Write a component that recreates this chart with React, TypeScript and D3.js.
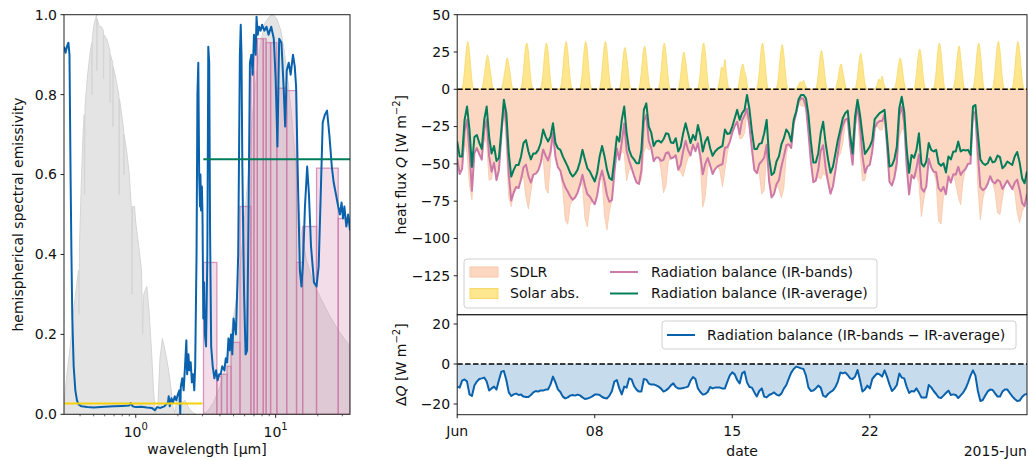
import { useEffect, useRef } from "react";
import * as d3 from "d3";

const FONT = "'DejaVu Sans', sans-serif";

// ---------- left panel: spectra ----------
// solar spectrum (normalised), grey
const sunWl = [0.305, 0.31, 0.32, 0.34, 0.36, 0.38, 0.39, 0.393, 0.396, 0.41, 0.42, 0.428, 0.431, 0.434, 0.45, 0.47, 0.484, 0.486, 0.489, 0.5, 0.515, 0.525, 0.527, 0.53, 0.55, 0.57, 0.587, 0.589, 0.592, 0.62, 0.654, 0.656, 0.659, 0.685, 0.687, 0.69, 0.72, 0.757, 0.761, 0.765, 0.8, 0.82, 0.823, 0.826, 0.86, 0.9, 0.935, 0.94, 0.95, 0.98, 1.0, 1.05, 1.1, 1.12, 1.14, 1.2, 1.25, 1.3, 1.34, 1.38, 1.44, 1.49, 1.55, 1.62, 1.7, 1.78, 1.84, 1.9, 1.96, 2.05, 2.15, 2.25, 2.4, 2.55, 2.7];
const sunRel = [0.0, 0.04, 0.09, 0.17, 0.26, 0.33, 0.36, 0.25, 0.42, 0.6, 0.7, 0.75, 0.55, 0.77, 0.84, 0.9, 0.93, 0.8, 0.94, 0.97, 0.99, 1.0, 0.86, 0.99, 0.97, 0.97, 0.96, 0.84, 0.95, 0.94, 0.91, 0.78, 0.9, 0.88, 0.72, 0.87, 0.84, 0.8, 0.55, 0.79, 0.74, 0.71, 0.6, 0.7, 0.66, 0.6, 0.5, 0.3, 0.52, 0.52, 0.48, 0.42, 0.36, 0.2, 0.3, 0.32, 0.25, 0.15, 0.06, 0.0, 0.02, 0.14, 0.19, 0.16, 0.12, 0.07, 0.02, 0.005, 0.03, 0.04, 0.03, 0.035, 0.015, 0.005, 0.0];
// thermal (sky window) spectrum, grey
const bbWl = [3.0, 3.3, 3.6, 4.0, 4.4, 4.8, 5.3, 5.8, 6.3, 6.8, 7.3, 7.8, 8.4, 9.0, 9.6, 10.2, 10.9, 11.5, 12.2, 13.0, 14.0, 15.0, 16.5, 18.5, 21.0, 24.0, 28.0, 34.0];
const bbRel = [0.0, 0.01, 0.03, 0.07, 0.12, 0.2, 0.3, 0.43, 0.58, 0.74, 0.85, 0.93, 0.98, 0.995, 1.0, 0.99, 0.96, 0.91, 0.84, 0.75, 0.61, 0.47, 0.39, 0.33, 0.29, 0.25, 0.21, 0.17];
// band-averaged emissivity
const bandEdges = [3.05, 3.8, 4.1, 4.5, 4.8, 5.56, 6.66, 7.0, 7.4, 8.15, 8.55, 9.2, 10.2, 12.0, 14.1, 15.6, 19.6, 28, 34];
const bandEps = [0.38, 0.095, 0.1, 0.12, 0.18, 0.52, 0.857, 0.94, 0.94, 0.94, 0.93, 0.93, 0.816, 0.81, 0.38, 0.47, 0.616, 0.49];
// measured emissivity
const emWl = [0.307, 0.315, 0.322, 0.33, 0.336, 0.342, 0.347, 0.352, 0.36, 0.37, 0.38, 0.39, 0.41, 0.45, 0.5, 0.6, 0.7, 0.8, 0.9, 0.92, 0.95, 1.0, 1.1, 1.2, 1.3, 1.37, 1.42, 1.5, 1.6, 1.7, 1.72, 1.75, 1.8, 1.85, 1.9, 1.95, 2.0, 2.05, 2.08, 2.1, 2.15, 2.2, 2.25, 2.3, 2.33, 2.38, 2.42, 2.47, 2.52, 2.57, 2.62, 2.66, 2.72, 2.76, 2.8, 2.84, 2.88, 2.9, 2.93, 2.97, 3.0, 3.04, 3.08, 3.12, 3.18, 3.25, 3.3, 3.35, 3.4, 3.46, 3.55, 3.65, 3.75, 3.85, 3.95, 4.05, 4.15, 4.3, 4.4, 4.5, 4.6, 4.7, 4.8, 4.9, 5.0, 5.2, 5.4, 5.55, 5.63, 5.7, 5.78, 5.85, 5.95, 6.1, 6.25, 6.4, 6.55, 6.7, 6.85, 7.0, 7.2, 7.3, 7.45, 7.6, 7.8, 8.0, 8.3, 8.6, 8.9, 9.3, 9.7, 10.0, 10.3, 10.6, 11.0, 11.4, 11.7, 12.0, 12.4, 12.8, 13.3, 13.7, 14.0, 14.4, 14.9, 15.3, 15.7, 16.2, 16.8, 17.3, 17.9, 18.8, 19.6, 20.3, 21.0, 21.7, 22.5, 23.3, 24.2, 25.2, 26.0, 27.0, 28.0, 28.8, 29.6, 30.3, 31.0, 32.0, 33.0, 34.0];
const emEps = [0.92, 0.905, 0.92, 0.93, 0.9, 0.6, 0.4, 0.24, 0.12, 0.06, 0.035, 0.025, 0.02, 0.018, 0.017, 0.019, 0.02, 0.021, 0.022, 0.028, 0.02, 0.018, 0.019, 0.017, 0.016, 0.01, 0.018, 0.016, 0.02, 0.03, 0.045, 0.02, 0.04, 0.03, 0.045, 0.035, 0.05, 0.06, 0.0, 0.07, 0.09, 0.06, 0.12, 0.185, 0.1, 0.15, 0.11, 0.13, 0.08, 0.1, 0.06, 0.12, 0.4, 0.8, 0.88, 0.6, 0.52, 0.6, 0.51, 0.57, 0.5, 0.24, 0.33, 0.2, 0.17, 0.4, 0.92, 0.88, 0.45, 0.17, 0.12, 0.09, 0.11, 0.085, 0.1, 0.1, 0.12, 0.11, 0.14, 0.13, 0.19, 0.16, 0.2, 0.15, 0.24, 0.2, 0.4, 0.9, 0.975, 0.9, 0.62, 0.48, 0.3, 0.15, 0.16, 0.5, 0.88, 0.9, 0.85, 0.95, 0.9, 0.995, 0.95, 0.97, 0.96, 0.975, 0.96, 0.97, 0.95, 0.97, 0.94, 0.84, 0.67, 0.94, 0.93, 0.82, 0.72, 0.86, 0.88, 0.85, 0.9, 0.87, 0.82, 0.6, 0.36, 0.32, 0.38, 0.52, 0.62, 0.55, 0.42, 0.33, 0.32, 0.37, 0.55, 0.73, 0.75, 0.76, 0.7, 0.62, 0.58, 0.55, 0.52, 0.5, 0.53, 0.49, 0.52, 0.47, 0.5, 0.46];
const solarAvg = 0.027;
const irAvg = 0.638;
const solarRange = [0.307, 3.0];
const irRange = [3.04, 34];

// ---------- right panels: June 2015, every 3 h ----------
const start = Date.UTC(2015, 5, 1);
const stepHours = 3;
const nDays = 29;
const irAverage = [
  -35, -45, -45, -20.5, -11.6, -27, -52, -32,
  -30.6, -36, -40, -20.5, -11.6, -31.7, -43, -38,
  -48, -46, -27, -7, -16, -43, -58.5, -54,
  -50.7, -50.7, -45, -36, -34, -41.7, -47, -43,
  -43, -40.6, -36, -27, -31.7, -35, -31.7, -22.8,
  -36, -39.5, -40.6, -45, -48.4, -51.8, -56, -58.5,
  -56.7, -54, -48.4, -40.6, -47, -53, -55, -58.5,
  -61.8, -56, -45, -38, -45, -54, -59.6, -60.7,
  -47, -31.7, -35, -20.5, -11.6, -29.5, -40.6, -45,
  -47, -49.6, -49.6, -40.6, -13.8, -9.4, -25, -29,
  -38, -35, -34.4, -35.7, -33.5, -29.5, -30, -35.7,
  -36, -32.8, -41.7, -38.4, -29.5, -22.8, -29.5, -36,
  -30.6, -34, -24, -30.6, -41.7, -35, -32, -39.5,
  -44.6, -41.7, -40, -39, -38, -27, -30, -29.5,
  -25, -19.4, -13.8, -20.5, -16, -13.8, -3.8, -13.4,
  -28.3, -40, -40, -36.6, -36, -29.5, -20.5, -46,
  -57.4, -56, -48.4, -45, -37, -32.8, -27, -29.5,
  -35, -20.5, -15, -6.7, -3.8, -3.8, -6, -17,
  -35, -49, -49, -43, -29.5, -21.7, -36, -47,
  -56, -51.8, -43, -34, -27, -19.4, -16, -14.3,
  -30.6, -43, -18.3, -7, -17, -30.6, -43.3, -41,
  -38.4, -34, -20, -17.9, -16, -15, -13.8, -31.7,
  -51.8, -51, -47, -38.4, -12.7, -5, -15, -40,
  -56, -44, -46, -40.6, -29.5, -49.6, -51.8, -48.4,
  -36, -40.6, -41.7, -40.6, -49.6, -51.3, -49.6, -55.8,
  -45, -47, -41.7, -41.7, -35, -41.7, -40.6, -41,
  -40.6, -44, -11.6, -10.5, -29.5, -47, -49.6, -50.7,
  -49.6, -45.5, -49, -48.4, -44.4, -45.5, -53, -51.3,
  -48.4, -49.6, -50.7, -45, -42, -49, -59.6, -63,
  -55,
];
const bandsMinusAvg = [
  -11.3, -11.8, -8.3, -7.7, -8.8, -15.2, -16, -10.8,
  -8.8, -7.5, -7.2, -6.8, -8.8, -13.3, -12.2, -11.3,
  -12.8, -8, -3.8, -3.5, -8, -14.2, -16, -15.2,
  -14.8, -15.5, -15.3, -16.3, -16.5, -16.5, -15.5, -14.2,
  -13.5, -13.8, -13.2, -13.3, -12.8, -12.7, -10.2, -6.3,
  -9.2, -12.7, -14, -16.3, -17.2, -16.7, -15.8, -15.5,
  -15.8, -15.3, -15.7, -16.7, -17.5, -17.3, -16.8, -16.2,
  -15.3, -15.2, -15.5, -16.5, -17, -17.2, -15.8, -13.5,
  -8.8, -8, -12.2, -15.2, -11.3, -11.8, -7.2, -7.7,
  -11, -12.8, -13.8, -13.8, -7.5, -7.8, -9.8, -10.3,
  -10.2, -10.7, -11.3, -12.3, -13.8, -13.2, -12.2, -10.7,
  -9.7, -11.5, -12.2, -12.2, -12, -11.7, -11.3, -8.3,
  -6.5, -7.5, -12.2, -14, -15.3, -15, -14, -11.5,
  -12.2, -11.8, -11.7, -11.8, -12.3, -12.2, -8.8, -5.7,
  -4.2, -5.2, -8, -9.7, -4.7, -3.8, -9.2, -11.5,
  -11.8, -14.2, -16.2, -13.5, -12.2, -16.3, -16.7, -15.5,
  -15, -14.2, -15.3, -15.8, -14.8, -12.3, -10.5, -7.3,
  -4.3, -2.5, -1.3, -1.7, -2.2, -2.5, -5.8, -11.7,
  -13.5, -13.3, -12.2, -10.8, -11.8, -15.8, -16.5, -15,
  -14, -13.2, -11.5, -8.8, -4.2, -4.7, -4.2, -5.5,
  -7.2, -7.5, -6.3, -3, -8, -13.8, -12.7, -10.8,
  -12.2, -7.5, -6, -4.7, -5.2, -6.3, -3.2, -6.3,
  -10.2, -13.5, -12.3, -10.5, -4.8, -6.8, -7.2, -11.3,
  -14.5, -13.5, -13.8, -12.2, -14.3, -16.7, -16.8, -16.7,
  -10.5, -11.7, -13.5, -15, -16.7, -17, -15.8, -14.5,
  -13.3, -15.5, -15.2, -15.5, -17, -15.7, -14.3, -12.3,
  -9.3, -5.8, -3.2, -5.8, -13.5, -18.5, -18, -15.8,
  -13.7, -12.8, -13, -14.7, -16.3, -16.3, -13.8, -12.7,
  -12.8, -14.5, -16.2, -17.5, -18.5, -18.3, -16.5, -15.3,
  -15,
];
const sdlr = [
  -46.3, -56.8, -53.3, -34.2, -42.4, -64.2, -74, -42.8,
  -39.4, -43.5, -47.2, -32.3, -36.4, -61, -60.2, -49.3,
  -60.8, -54, -30.8, -14.5, -39, -72.2, -78.5, -69.2,
  -65.5, -66.2, -60.3, -58.3, -72.5, -80.2, -68.5, -57.2,
  -56.5, -54.4, -49.2, -46.3, -66.5, -69.7, -47.9, -29.1,
  -45.2, -52.2, -54.6, -67.3, -87.6, -90.5, -77.8, -74,
  -72.5, -69.3, -64.1, -63.3, -86.5, -92.3, -77.8, -74.7,
  -77.1, -71.2, -60.5, -60.5, -85, -94.2, -81.4, -74.2,
  -55.8, -39.7, -47.2, -41.7, -42.9, -61.3, -53.8, -52.7,
  -58, -62.4, -63.4, -60.4, -42.3, -38.2, -40.8, -39.3,
  -48.2, -45.7, -45.7, -54, -69.3, -64.7, -48.2, -46.4,
  -45.7, -44.3, -53.9, -55.6, -58.5, -51.5, -45.8, -44.3,
  -37.1, -41.5, -36.2, -50.6, -79, -72, -52, -51,
  -56.8, -53.5, -51.7, -54.8, -65.3, -54.2, -42.8, -35.2,
  -29.2, -24.6, -21.8, -33.2, -32.7, -29.6, -16, -24.9,
  -40.1, -54.2, -56.2, -56.1, -70.2, -67.8, -43.2, -61.5,
  -72.4, -70.2, -63.7, -66.8, -72.8, -66.1, -43.5, -36.8,
  -39.3, -23, -16.3, -9.4, -11, -11.3, -12.8, -28.7,
  -48.5, -62.3, -61.2, -58.8, -60.3, -56.5, -57.5, -62,
  -70, -65, -54.5, -45.8, -43.2, -36.1, -23.2, -19.8,
  -37.8, -50.5, -24.6, -15, -42, -61.4, -61, -51.8,
  -50.6, -41.5, -26, -24.6, -27.2, -27.3, -19, -38,
  -62, -64.5, -59.3, -52.9, -32.5, -26.8, -26.2, -51.3,
  -70.5, -57.5, -59.8, -57.8, -62.8, -85.3, -73.6, -65.1,
  -46.5, -52.3, -55.2, -61.6, -88.3, -90.3, -71.4, -70.3,
  -58.3, -62.5, -56.9, -63.2, -72, -77.4, -60.9, -53.3,
  -49.9, -49.8, -14.8, -22.3, -65, -87.5, -73.6, -66.5,
  -63.3, -58.3, -62, -69.1, -82.7, -83.8, -72.8, -64,
  -61.2, -64.1, -66.9, -68.5, -82.5, -89.3, -82.1, -78.3,
  -70,
];
const solarHours = [7, 9, 11, 13, 15, 17, 19];
const solarAbs = [
  [3, 13, 26, 32, 25, 12, 2],
  [2, 9, 18, 23, 18, 10, 2],
  [2, 8, 15, 21, 17, 9, 2],
  [3, 13, 26, 31, 25, 12, 3],
  [3, 12, 25, 31, 25, 12, 2],
  [3, 13, 26, 32, 26, 13, 3],
  [3, 13, 26, 32, 26, 12, 2],
  [3, 13, 26, 32, 26, 13, 3],
  [2, 11, 23, 28, 22, 12, 2],
  [3, 12, 24, 29, 22, 11, 2],
  [3, 12, 25, 31, 24, 12, 2],
  [2, 10, 20, 25, 19, 10, 2],
  [3, 12, 25, 31, 25, 12, 2],
  [2, 8, 15, 13, 20, 10, 2],
  [1, 7, 14, 17, 12, 8, 1],
  [3, 12, 25, 31, 24, 12, 2],
  [3, 12, 24, 30, 23, 11, 2],
  [1, 3, 5, 4, 6, 3, 1],
  [2, 10, 21, 26, 20, 10, 2],
  [2, 7, 14, 17, 12, 6, 1],
  [2, 9, 19, 24, 18, 8, 2],
  [1, 3, 7, 5, 9, 4, 1],
  [2, 8, 16, 21, 17, 8, 2],
  [2, 11, 22, 27, 21, 10, 2],
  [3, 12, 25, 31, 25, 12, 2],
  [3, 11, 23, 29, 22, 11, 2],
  [3, 12, 25, 31, 25, 12, 2],
  [3, 13, 26, 32, 26, 13, 3],
  [3, 13, 26, 32, 26, 13, 3],
];
const fluxTicks = [50, 25, 0, -25, -50, -75, -100, -125];
const diffTicks = [20, 0, -20];
const dayTicks = [1, 8, 15, 22];
const dayLabels = ["Jun", "08", "15", "22"];

const C = {
  frame: "#222",
  grey: "#e4e4e4",
  greyEdge: "#d4d4d4",
  pink: "#cc79a7",
  blue: "#0a62ad",
  green: "#007d5a",
  yellowLine: "#f5d10a",
  peach: "#fcd8c2",
  peachEdge: "#f8c6a8",
  solar: "#fde68e",
  solarEdge: "#f8d968",
  diffFill: "#c6dcec",
};

const minus = (v: number) => (v < 0 ? "\u2212" + Math.abs(v) : String(v));

export default function App() {
  const ref = useRef<SVGSVGElement>(null);

  useEffect(() => {
    const svg = d3.select(ref.current);
    svg.selectAll("*").remove();
    svg.attr("font-family", FONT).attr("font-size", 14).attr("fill", "#111");
    const defs = svg.append("defs");

    // ================= left: emissivity =================
    const lx0 = 64, lx1 = 350, ly0 = 14.7, ly1 = 414.3;
    const x = d3.scaleLog().domain([0.307, 34]).range([lx0, lx1]);
    const y = d3.scaleLinear().domain([0, 1]).range([ly1, ly0]);

    defs.append("clipPath").attr("id", "clipL").append("rect")
      .attr("x", lx0).attr("y", ly0).attr("width", lx1 - lx0).attr("height", ly1 - ly0);
    const gL = svg.append("g").attr("clip-path", "url(#clipL)");

    const specArea = d3.area<[number, number]>()
      .x((d) => x(d[0])).y0(y(0)).y1((d) => y(d[1]));

    gL.append("path").datum(d3.zip(sunWl, sunRel) as [number, number][])
      .attr("d", specArea).attr("fill", C.grey).attr("stroke", C.greyEdge).attr("stroke-width", 1);
    gL.append("path").datum(d3.zip(bbWl, bbRel) as [number, number][])
      .attr("d", specArea).attr("fill", C.grey).attr("stroke", C.greyEdge).attr("stroke-width", 1);

    gL.selectAll("rect.band").data(bandEps).join("rect")
      .attr("class", "band")
      .attr("x", (_, i) => x(bandEdges[i]))
      .attr("width", (_, i) => x(bandEdges[i + 1]) - x(bandEdges[i]))
      .attr("y", (d) => y(d))
      .attr("height", (d) => y(0) - y(d))
      .attr("fill", C.pink).attr("fill-opacity", 0.25)
      .attr("stroke", C.pink).attr("stroke-opacity", 0.75).attr("stroke-width", 1.3);

    const specLine = d3.line<[number, number]>().x((d) => x(d[0])).y((d) => y(d[1]));
    gL.append("path").datum(d3.zip(emWl, emEps) as [number, number][])
      .attr("d", specLine).attr("fill", "none").attr("stroke", C.blue)
      .attr("stroke-width", 2).attr("stroke-linejoin", "round");
    gL.append("path").datum(solarRange.map((w) => [w, solarAvg] as [number, number]))
      .attr("d", specLine).attr("stroke", C.yellowLine).attr("stroke-width", 2);
    gL.append("path").datum(irRange.map((w) => [w, irAvg] as [number, number]))
      .attr("d", specLine).attr("stroke", C.green).attr("stroke-width", 2);

    svg.append("rect").attr("x", lx0).attr("y", ly0).attr("width", lx1 - lx0).attr("height", ly1 - ly0)
      .attr("fill", "none").attr("stroke", C.frame).attr("stroke-width", 1);

    const gAx = svg.append("g");
    d3.range(0, 1.01, 0.2).forEach((v) => {
      gAx.append("line").attr("x1", lx0 - 3.5).attr("x2", lx0).attr("y1", y(v)).attr("y2", y(v)).attr("stroke", C.frame);
      gAx.append("text").attr("x", lx0 - 7).attr("y", y(v)).attr("dy", "0.35em")
        .attr("text-anchor", "end").text(d3.format(".1f")(v));
    });
    const minorWl = [0.4, 0.5, 0.6, 0.7, 0.8, 0.9, 2, 3, 4, 5, 6, 7, 8, 9, 20, 30];
    minorWl.forEach((w) => {
      gAx.append("line").attr("x1", x(w)).attr("x2", x(w)).attr("y1", ly1).attr("y2", ly1 + 2).attr("stroke", C.frame).attr("stroke-width", 0.7);
    });
    [1, 10].forEach((w, i) => {
      gAx.append("line").attr("x1", x(w)).attr("x2", x(w)).attr("y1", ly1).attr("y2", ly1 + 3.5).attr("stroke", C.frame);
      const t = gAx.append("text").attr("x", x(w)).attr("y", 437).attr("text-anchor", "middle");
      t.append("tspan").text("10");
      t.append("tspan").attr("dy", -7).attr("font-size", 10).text(String(i));
    });
    gAx.append("text").attr("x", (lx0 + lx1) / 2).attr("y", 454).attr("text-anchor", "middle").text("wavelength [µm]");
    gAx.append("text").attr("transform", `translate(23,${(ly0 + ly1) / 2}) rotate(-90)`)
      .attr("text-anchor", "middle").text("hemispherical spectral emissivity");

    // ================= right: heat flux =================
    const rx0 = 457.2, rx1 = 1027, tTop = 14.7, tBot = 314.7, bTop = 314.7, bBot = 414.7;
    const day = 864e5;
    const xt = d3.scaleUtc().domain([new Date(start), new Date(start + nDays * day)]).range([rx0, rx1]);
    const yT = d3.scaleLinear().domain([-151.1, 50]).range([tBot, tTop]);
    const yB = d3.scaleLinear().domain([-25.35, 24.65]).range([bBot, bTop]);
    const at = (i: number) => new Date(start + i * stepHours * 3600e3);

    const irBands = irAverage.map((v, i) => v + bandsMinusAvg[i]);

    const solarPts: [Date, number][] = [[new Date(start), 0]];
    solarAbs.forEach((vals, d) => {
      solarPts.push([new Date(start + d * day + 5 * 3600e3), 0]);
      vals.forEach((v, j) => solarPts.push([new Date(start + d * day + solarHours[j] * 3600e3), v]));
      solarPts.push([new Date(start + d * day + 21 * 3600e3), 0]);
    });
    solarPts.push([new Date(start + nDays * day), 0]);

    defs.append("clipPath").attr("id", "clipT").append("rect")
      .attr("x", rx0).attr("y", tTop).attr("width", rx1 - rx0).attr("height", tBot - tTop);
    defs.append("clipPath").attr("id", "clipB").append("rect")
      .attr("x", rx0).attr("y", bTop).attr("width", rx1 - rx0).attr("height", bBot - bTop);

    const gT = svg.append("g").attr("clip-path", "url(#clipT)");
    gT.append("path").datum(sdlr)
      .attr("d", d3.area<number>().x((_, i) => xt(at(i))).y0(yT(0)).y1((d) => yT(d)))
      .attr("fill", C.peach).attr("stroke", C.peachEdge).attr("stroke-width", 0.8);
    gT.append("path").datum(solarPts)
      .attr("d", d3.area<[Date, number]>().x((d) => xt(d[0])).y0(yT(0)).y1((d) => yT(d[1])).curve(d3.curveMonotoneX))
      .attr("fill", C.solar).attr("stroke", C.solarEdge).attr("stroke-width", 0.8);

    const seriesLine = (ys: (v: number) => number) =>
      d3.line<number>().x((_, i) => xt(at(i))).y((d) => ys(d));
    gT.append("path").datum(irBands).attr("d", seriesLine(yT))
      .attr("fill", "none").attr("stroke", C.pink).attr("stroke-width", 2).attr("stroke-linejoin", "round");
    gT.append("path").datum(irAverage).attr("d", seriesLine(yT))
      .attr("fill", "none").attr("stroke", C.green).attr("stroke-width", 2).attr("stroke-linejoin", "round");
    gT.append("line").attr("x1", rx0).attr("x2", rx1).attr("y1", yT(0)).attr("y2", yT(0))
      .attr("stroke", "#000").attr("stroke-width", 1.5).attr("stroke-dasharray", "5.5,2.4");

    const gB = svg.append("g").attr("clip-path", "url(#clipB)");
    gB.append("path").datum(bandsMinusAvg)
      .attr("d", d3.area<number>().x((_, i) => xt(at(i))).y0(yB(0)).y1((d) => yB(d)))
      .attr("fill", C.diffFill);
    gB.append("path").datum(bandsMinusAvg).attr("d", seriesLine(yB))
      .attr("fill", "none").attr("stroke", C.blue).attr("stroke-width", 2).attr("stroke-linejoin", "round");
    gB.append("line").attr("x1", rx0).attr("x2", rx1).attr("y1", yB(0)).attr("y2", yB(0))
      .attr("stroke", "#000").attr("stroke-width", 1.5).attr("stroke-dasharray", "5.5,2.4");

    // frames
    [[tTop, tBot], [bTop, bBot]].forEach(([a, b]) => {
      svg.append("rect").attr("x", rx0).attr("y", a).attr("width", rx1 - rx0).attr("height", b - a)
        .attr("fill", "none").attr("stroke", C.frame).attr("stroke-width", 1);
    });

    const gR = svg.append("g");
    fluxTicks.forEach((v) => {
      gR.append("line").attr("x1", rx0 - 3.5).attr("x2", rx0).attr("y1", yT(v)).attr("y2", yT(v)).attr("stroke", C.frame);
      gR.append("text").attr("x", rx0 - 7).attr("y", yT(v)).attr("dy", "0.35em").attr("text-anchor", "end").text(minus(v));
    });
    diffTicks.forEach((v) => {
      gR.append("line").attr("x1", rx0 - 3.5).attr("x2", rx0).attr("y1", yB(v)).attr("y2", yB(v)).attr("stroke", C.frame);
      gR.append("text").attr("x", rx0 - 7).attr("y", yB(v)).attr("dy", "0.35em").attr("text-anchor", "end").text(minus(v));
    });
    dayTicks.forEach((d, i) => {
      const px = xt(new Date(start + (d - 1) * day));
      gR.append("line").attr("x1", px).attr("x2", px).attr("y1", bBot).attr("y2", bBot + 3.5).attr("stroke", C.frame);
      gR.append("text").attr("x", px).attr("y", 435.5).attr("text-anchor", "middle").text(dayLabels[i]);
    });
    gR.append("text").attr("x", (rx0 + rx1) / 2).attr("y", 456).attr("text-anchor", "middle").text("date");
    gR.append("text").attr("x", rx1).attr("y", 456).attr("text-anchor", "end").text("2015-Jun");

    const yLabel = (cy: number, pre: string, italic: string) => {
      const t = gR.append("text").attr("transform", `translate(406,${cy}) rotate(-90)`).attr("text-anchor", "middle");
      t.append("tspan").text(pre);
      t.append("tspan").attr("font-style", "italic").text(italic);
      t.append("tspan").text(" [W m");
      t.append("tspan").attr("dy", -6).attr("font-size", 10).text("\u22122");
      t.append("tspan").attr("dy", 6).text("]");
    };
    yLabel((tTop + tBot) / 2, "heat flux ", "Q");
    yLabel((bTop + bBot) / 2, "\u0394", "Q");

    // legends
    const legT = svg.append("g");
    legT.append("rect").attr("x", 464).attr("y", 259).attr("width", 413).attr("height", 49).attr("rx", 3)
      .attr("fill", "#fff").attr("fill-opacity", 0.8).attr("stroke", "#d0d0d0");
    const rows = [272, 293.5];
    legT.append("rect").attr("x", 470).attr("y", rows[0] - 5).attr("width", 28).attr("height", 10)
      .attr("fill", C.peach).attr("stroke", C.peachEdge);
    legT.append("rect").attr("x", 470).attr("y", rows[1] - 5).attr("width", 28).attr("height", 10)
      .attr("fill", C.solar).attr("stroke", C.solarEdge);
    legT.append("text").attr("x", 510).attr("y", rows[0]).attr("dy", "0.35em").text("SDLR");
    legT.append("text").attr("x", 510).attr("y", rows[1]).attr("dy", "0.35em").text("Solar abs.");
    legT.append("line").attr("x1", 610).attr("x2", 638).attr("y1", rows[0]).attr("y2", rows[0]).attr("stroke", C.pink).attr("stroke-width", 2);
    legT.append("line").attr("x1", 610).attr("x2", 638).attr("y1", rows[1]).attr("y2", rows[1]).attr("stroke", C.green).attr("stroke-width", 2);
    legT.append("text").attr("x", 651).attr("y", rows[0]).attr("dy", "0.35em").text("Radiation balance (IR-bands)");
    legT.append("text").attr("x", 651).attr("y", rows[1]).attr("dy", "0.35em").text("Radiation balance (IR-average)");

    const legB = svg.append("g");
    legB.append("rect").attr("x", 662).attr("y", 321).attr("width", 354).attr("height", 28).attr("rx", 3)
      .attr("fill", "#fff").attr("fill-opacity", 0.8).attr("stroke", "#d0d0d0");
    legB.append("line").attr("x1", 667).attr("x2", 695).attr("y1", 335).attr("y2", 335).attr("stroke", C.blue).attr("stroke-width", 2);
    legB.append("text").attr("x", 707).attr("y", 335).attr("dy", "0.35em").text("Radiation balance (IR-bands \u2212 IR-average)");
  }, []);

  return (
    <svg ref={ref} width={1028} height={460}
      style={{ position: "absolute", left: 0, top: 0, background: "#fff" }} />
  );
}
